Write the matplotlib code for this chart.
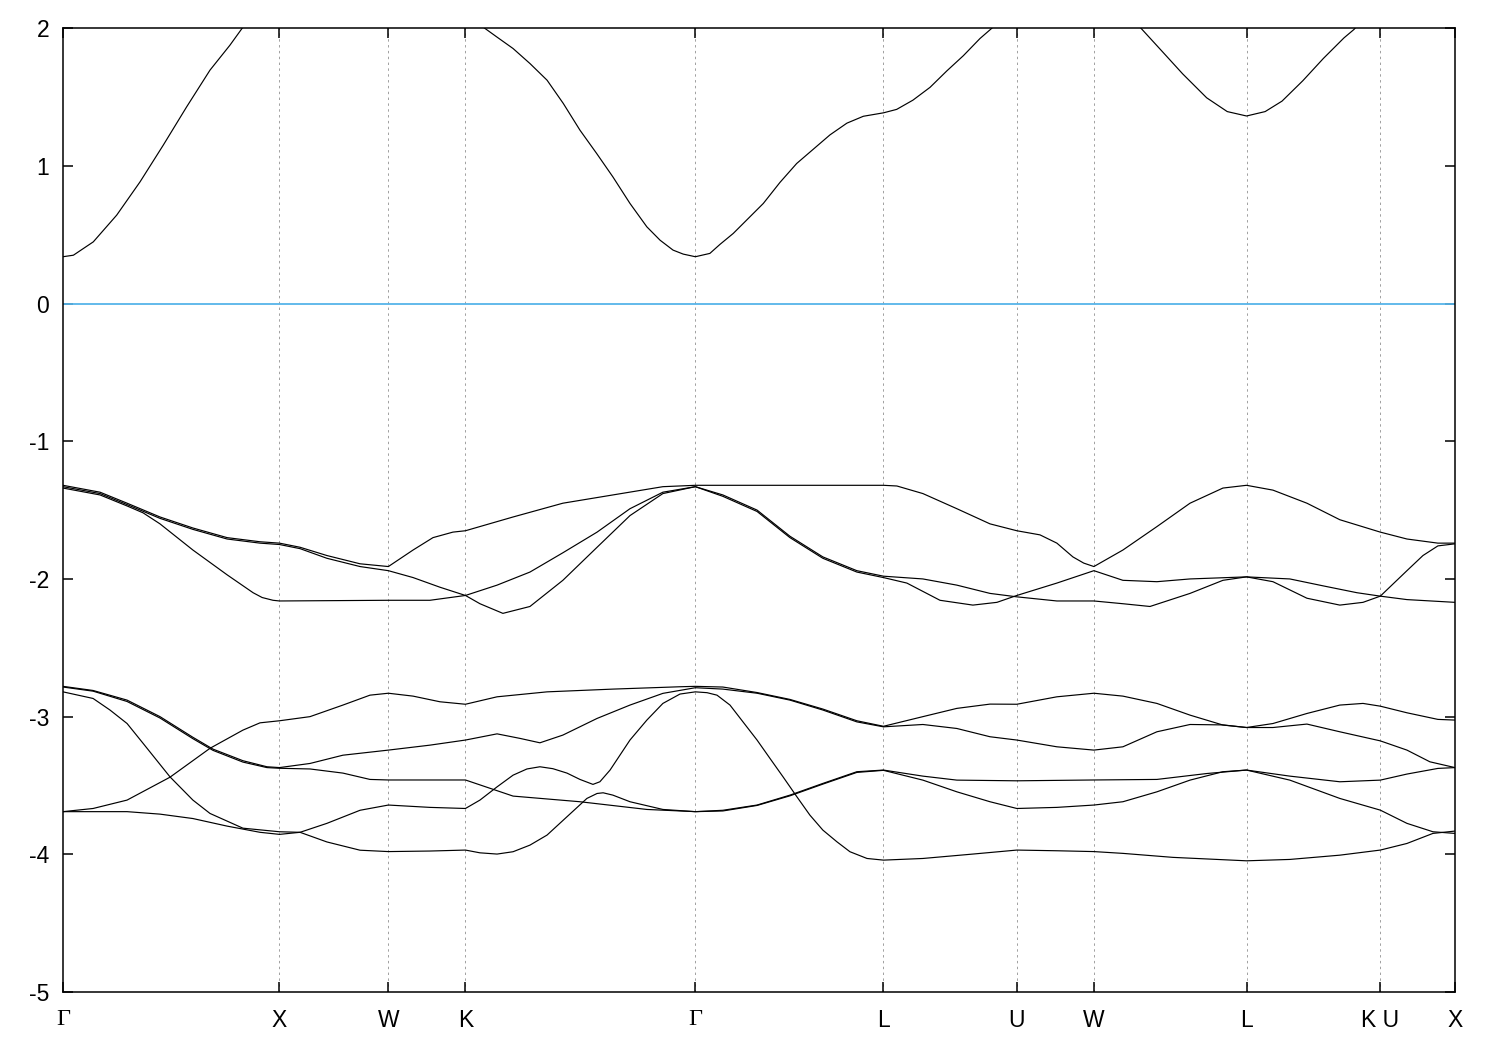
import matplotlib

matplotlib.use("Agg")
import matplotlib.pyplot as plt


# high-symmetry points along the k-path (path length, 2pi/a)
KPOINT_LABELS = ["Γ", "X", "W", "K", "Γ", "L", "U", "W", "L", "K U", "X"]
KPOINT_POS = [0.0, 1.0, 1.503, 1.859, 2.921, 3.790, 4.406, 4.762, 5.467, 6.085, 6.430]

ENERGY_TICKS = [-5, -4, -3, -2, -1, 0, 1, 2]
FERMI_LEVEL = 0.0

# conduction band (values above 2 eV are off the chart)
CB_K = [0.0, 0.048, 0.140, 0.248, 0.356, 0.463, 0.571, 0.679, 0.771, 0.827, 1.0, 1.503,
        1.859, 2.003, 2.079, 2.157, 2.236, 2.311, 2.388, 2.465, 2.540, 2.619, 2.697, 2.758,
        2.818, 2.865, 2.921, 2.988, 3.035, 3.096, 3.235, 3.312, 3.389, 3.543, 3.621, 3.697,
        3.790, 3.851, 3.926, 4.005, 4.083, 4.159, 4.236, 4.291, 4.406, 4.762, 4.979, 5.078,
        5.172, 5.283, 5.378, 5.467, 5.553, 5.631, 5.727, 5.822, 5.917, 5.963, 6.085, 6.430]
CB_E = [0.34, 0.351, 0.448, 0.642, 0.884, 1.150, 1.428, 1.695, 1.876, 1.998, 2.3, 2.4,
        2.1, 1.937, 1.852, 1.743, 1.622, 1.453, 1.259, 1.09, 0.92, 0.727, 0.557, 0.46,
        0.388, 0.359, 0.34, 0.364, 0.43, 0.509, 0.727, 0.88, 1.017, 1.225, 1.31, 1.36,
        1.385, 1.41, 1.477, 1.57, 1.69, 1.80, 1.925, 2.0, 2.2, 2.3, 2.0, 1.83,
        1.668, 1.494, 1.394, 1.362, 1.394, 1.47, 1.618, 1.78, 1.929, 1.99, 2.2, 2.4]

# upper valence manifold
VA_K = [0.0, 0.171, 0.296, 0.448, 0.600, 0.758, 0.910, 1.0, 1.095, 1.219, 1.372, 1.503,
        1.617, 1.709, 1.801, 1.859, 2.079, 2.309, 2.540, 2.771, 2.921, 3.790, 3.852, 3.972,
        4.129, 4.282, 4.406, 4.513, 4.591, 4.665, 4.715, 4.762, 4.896, 5.053, 5.206, 5.358,
        5.467, 5.589, 5.746, 5.898, 6.085, 6.208, 6.351, 6.430]
VA_E = [-1.32, -1.37, -1.45, -1.55, -1.63, -1.70, -1.73, -1.74, -1.77, -1.83, -1.89, -1.91,
        -1.79, -1.70, -1.66, -1.65, -1.55, -1.45, -1.39, -1.33, -1.32, -1.32, -1.325, -1.38,
        -1.49, -1.60, -1.65, -1.68, -1.74, -1.84, -1.885, -1.91, -1.79, -1.62, -1.45, -1.34,
        -1.32, -1.355, -1.45, -1.57, -1.66, -1.71, -1.74, -1.74]

VB_K = [0.0, 0.171, 0.296, 0.448, 0.600, 0.758, 0.910, 1.0, 1.095, 1.219, 1.372, 1.503,
        1.617, 1.741, 1.859, 2.005, 2.157, 2.309, 2.467, 2.619, 2.771, 2.921, 3.048, 3.206,
        3.358, 3.510, 3.667, 3.790, 3.972, 4.129, 4.282, 4.406, 4.591, 4.762, 4.896, 5.021,
        5.206, 5.358, 5.467, 5.589, 5.746, 5.898, 6.005, 6.085, 6.208, 6.282, 6.351, 6.430]
VB_E = [-1.33, -1.38, -1.46, -1.56, -1.64, -1.71, -1.74, -1.75, -1.78, -1.85, -1.91, -1.94,
        -1.99, -2.06, -2.12, -2.045, -1.95, -1.81, -1.66, -1.49, -1.37, -1.33, -1.39, -1.50,
        -1.69, -1.84, -1.94, -1.98, -2.00, -2.045, -2.105, -2.13, -2.16, -2.16, -2.18, -2.20,
        -2.105, -2.01, -1.985, -2.02, -2.14, -2.19, -2.17, -2.125, -1.94, -1.83, -1.76, -1.745]

VC_K = [0.0, 0.171, 0.296, 0.370, 0.448, 0.600, 0.758, 0.878, 0.920, 0.970, 1.0, 1.503,
        1.695, 1.859, 1.926, 2.032, 2.157, 2.309, 2.467, 2.619, 2.771, 2.921, 3.048, 3.206,
        3.358, 3.510, 3.667, 3.790, 3.898, 4.051, 4.203, 4.314, 4.406, 4.591, 4.762, 4.896,
        5.053, 5.206, 5.467, 5.667, 5.820, 5.977, 6.085, 6.208, 6.430]
VC_E = [-1.34, -1.39, -1.47, -1.52, -1.60, -1.79, -1.97, -2.10, -2.135, -2.155, -2.16, -2.155,
        -2.155, -2.12, -2.18, -2.25, -2.20, -2.01, -1.77, -1.54, -1.38, -1.33, -1.40, -1.51,
        -1.70, -1.85, -1.95, -1.99, -2.03, -2.155, -2.19, -2.17, -2.12, -2.03, -1.94, -2.01,
        -2.02, -2.00, -1.985, -2.00, -2.05, -2.10, -2.125, -2.15, -2.17]

# lower valence manifold
L1A_K = [0.0, 0.139, 0.296, 0.448, 0.600, 0.693, 0.831, 0.942, 1.0, 1.141, 1.293, 1.503,
         1.695, 1.859, 2.005, 2.111, 2.203, 2.309, 2.467, 2.619, 2.771, 2.921, 3.048, 3.206,
         3.358, 3.510, 3.667, 3.790, 3.972, 4.129, 4.282, 4.406, 4.591, 4.762, 4.896, 5.053,
         5.206, 5.358, 5.467, 5.589, 5.746, 5.898, 6.085, 6.208, 6.314, 6.430]
L1A_E = [-2.78, -2.81, -2.88, -3.00, -3.15, -3.236, -3.32, -3.364, -3.37, -3.34, -3.28, -3.243,
         -3.207, -3.17, -3.125, -3.158, -3.19, -3.134, -3.013, -2.916, -2.831, -2.79, -2.80, -2.83,
         -2.88, -2.952, -3.038, -3.074, -3.057, -3.086, -3.146, -3.17, -3.219, -3.243, -3.219, -3.11,
         -3.057, -3.06, -3.079, -3.079, -3.054, -3.11, -3.176, -3.243, -3.328, -3.37]

L1B_K = [0.0, 0.139, 0.296, 0.448, 0.600, 0.693, 0.831, 0.942, 1.0, 1.141, 1.293, 1.418,
         1.503, 1.859, 2.079, 2.388, 2.697, 2.921, 3.048, 3.206, 3.358, 3.510, 3.667, 3.790,
         3.972, 4.129, 4.406, 4.762, 5.053, 5.284, 5.467, 5.667, 5.898, 6.085, 6.208, 6.351,
         6.430]
L1B_E = [-2.785, -2.815, -2.89, -3.01, -3.16, -3.245, -3.33, -3.37, -3.375, -3.38, -3.41, -3.456,
         -3.46, -3.46, -3.577, -3.618, -3.674, -3.69, -3.68, -3.642, -3.57, -3.485, -3.40, -3.388,
         -3.432, -3.461, -3.466, -3.46, -3.456, -3.413, -3.388, -3.432, -3.473, -3.461, -3.417, -3.376,
         -3.37]

L2_K = [0.0, 0.139, 0.217, 0.296, 0.370, 0.494, 0.600, 0.679, 0.831, 1.0, 1.095, 1.219,
        1.372, 1.503, 1.695, 1.859, 1.926, 2.005, 2.079, 2.157, 2.236, 2.328, 2.420, 2.467,
        2.495, 2.540, 2.619, 2.771, 2.921, 3.048, 3.206, 3.358, 3.510, 3.667, 3.790, 3.972,
        4.129, 4.282, 4.406, 4.591, 4.762, 4.896, 5.053, 5.206, 5.358, 5.467, 5.667, 5.898,
        6.085, 6.208, 6.328, 6.430]
L2_E = [-2.82, -2.868, -2.952, -3.05, -3.194, -3.437, -3.606, -3.703, -3.81, -3.836, -3.84, -3.91,
        -3.97, -3.98, -3.976, -3.969, -3.989, -3.998, -3.981, -3.933, -3.86, -3.727, -3.594, -3.558,
        -3.553, -3.57, -3.618, -3.674, -3.69, -3.685, -3.645, -3.575, -3.49, -3.405, -3.39, -3.461,
        -3.546, -3.618, -3.667, -3.659, -3.642, -3.618, -3.546, -3.461, -3.40, -3.388, -3.461, -3.594,
        -3.679, -3.775, -3.836, -3.848]

L3_K = [0.0, 0.139, 0.296, 0.494, 0.679, 0.831, 0.910, 1.0, 1.141, 1.293, 1.418, 1.503,
        1.617, 1.741, 1.859, 2.005, 2.236, 2.540, 2.850, 2.921, 3.048, 3.206, 3.358, 3.510,
        3.667, 3.790, 3.972, 4.129, 4.282, 4.406, 4.591, 4.762, 4.896, 5.053, 5.206, 5.358,
        5.467, 5.589, 5.746, 5.898, 6.005, 6.085, 6.208, 6.351, 6.430]
L3_E = [-3.69, -3.667, -3.606, -3.44, -3.23, -3.098, -3.045, -3.03, -3.00, -2.916, -2.844, -2.83,
        -2.851, -2.892, -2.91, -2.856, -2.82, -2.80, -2.783, -2.78, -2.785, -2.825, -2.875, -2.945,
        -3.03, -3.07, -3.00, -2.94, -2.909, -2.91, -2.856, -2.83, -2.851, -2.904, -2.989, -3.061,
        -3.079, -3.05, -2.977, -2.916, -2.904, -2.924, -2.972, -3.02, -3.025]

L4_K = [0.0, 0.296, 0.448, 0.600, 0.758, 0.910, 1.0, 1.095, 1.219, 1.372, 1.503, 1.695,
        1.859, 1.926, 2.005, 2.079, 2.143, 2.203, 2.263, 2.328, 2.388, 2.448, 2.480, 2.527,
        2.619, 2.697, 2.771, 2.850, 2.921, 2.975, 3.021, 3.081, 3.141, 3.206, 3.266, 3.326,
        3.390, 3.450, 3.510, 3.575, 3.635, 3.714, 3.790, 3.972, 4.203, 4.406, 4.591, 4.762,
        4.896, 5.127, 5.467, 5.667, 5.898, 6.085, 6.208, 6.328, 6.430]
L4_E = [-3.69, -3.69, -3.708, -3.74, -3.795, -3.84, -3.855, -3.84, -3.775, -3.68, -3.642, -3.659,
        -3.667, -3.606, -3.51, -3.425, -3.38, -3.364, -3.378, -3.41, -3.456, -3.492, -3.473, -3.388,
        -3.17, -3.025, -2.904, -2.836, -2.82, -2.826, -2.844, -2.916, -3.038, -3.17, -3.304, -3.437,
        -3.582, -3.715, -3.824, -3.909, -3.981, -4.03, -4.042, -4.03, -3.998, -3.969, -3.974, -3.98,
        -3.993, -4.022, -4.047, -4.037, -4.006, -3.969, -3.921, -3.848, -3.831]

BANDS = [
    (CB_K, CB_E),
    (VA_K, VA_E), (VB_K, VB_E), (VC_K, VC_E),
    (L1A_K, L1A_E), (L1B_K, L1B_E), (L2_K, L2_E), (L3_K, L3_E), (L4_K, L4_E),
]


def main():
    plt.rcParams["font.family"] = ["Liberation Sans", "DejaVu Sans"]
    plt.rcParams["axes.unicode_minus"] = False

    fig = plt.figure(figsize=(15, 10.5), dpi=100)
    ax = fig.add_axes([0.042, 0.0552, 0.928, 0.918])

    for pos in KPOINT_POS[1:-1]:
        ax.axvline(pos, color="#a0a0a0", lw=0.7, ls=(0, (2.5, 3.5)), zorder=1)

    ax.axhline(FERMI_LEVEL, color="#56b4e9", lw=1.3, zorder=2)

    for ks, es in BANDS:
        ax.plot(ks, es, color="black", lw=0.85, zorder=3,
                solid_joinstyle="round")

    ax.set_xlim(KPOINT_POS[0], KPOINT_POS[-1])
    ax.set_ylim(-5, 2)
    ax.set_yticks(ENERGY_TICKS)
    ax.set_yticklabels([str(t) for t in ENERGY_TICKS])
    ax.set_xticks(KPOINT_POS)
    ax.set_xticklabels(KPOINT_LABELS)

    ax.tick_params(direction="in", length=7, width=1.1, labelsize=16.5,
                   top=True, right=True, color="black")
    ax.tick_params(axis="y", pad=10)
    ax.tick_params(axis="x", pad=12)
    for lbl in ax.get_xticklabels():
        if lbl.get_text() == "Γ":
            lbl.set_fontfamily(["Liberation Serif", "DejaVu Serif"])
            lbl.set_fontsize(17.5)

    for spine in ax.spines.values():
        spine.set_linewidth(1.1)

    fig.savefig("out.png", dpi=100)
    plt.close(fig)


if __name__ == "__main__":
    main()
